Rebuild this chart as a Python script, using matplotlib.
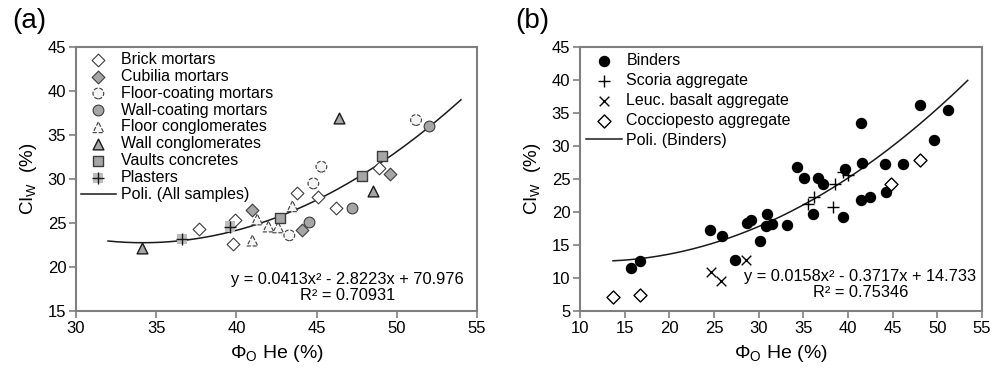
import numpy as np
import matplotlib
matplotlib.use("Agg")
import matplotlib.pyplot as plt

plt.rcParams['font.family'] = ['Liberation Sans', 'DejaVu Sans']
plt.rcParams['mathtext.fontset'] = 'custom'
plt.rcParams['mathtext.rm'] = 'Liberation Sans'
plt.rcParams['mathtext.it'] = 'Liberation Sans:italic'

# ---- panel (a) data ----
brick_x = [37.7, 39.8, 39.9, 43.8, 45.1, 46.2, 48.9]
brick_y = [24.3, 22.6, 25.3, 28.4, 28.0, 26.7, 31.3]
cubilia_x = [41.0, 44.1, 49.6]
cubilia_y = [26.5, 24.2, 30.6]
floorcoat_x = [43.3, 44.8, 45.3, 51.2]
floorcoat_y = [23.6, 29.5, 31.4, 36.7]
wallcoat_x = [44.5, 47.2, 52.0]
wallcoat_y = [25.1, 26.7, 36.0]
floorcong_x = [41.0, 41.3, 42.0, 42.6, 43.5]
floorcong_y = [23.0, 25.4, 24.6, 24.5, 26.9]
wallcong_x = [34.1, 46.4, 48.5]
wallcong_y = [22.2, 36.9, 28.6]
vaults_x = [42.75, 47.85, 49.05]
vaults_y = [25.6, 30.3, 32.6]
plasters_x = [36.6, 39.6]
plasters_y = [23.2, 24.6]
coef_a = [0.0413, -2.8223, 70.976]

# ---- panel (b) data ----
binders_x = [15.7, 16.7, 24.6, 25.9, 27.4, 28.7, 29.1, 30.1, 30.9, 30.8, 31.5,
             33.2, 34.3, 35.1, 36.1, 36.6, 37.15, 39.4, 39.7, 41.5, 41.6, 41.5,
             42.5, 44.1, 44.3, 46.2, 48.1, 49.6, 51.2]
binders_y = [11.5, 12.6, 17.2, 16.3, 12.8, 18.3, 18.8, 15.6, 19.7, 17.9, 18.2,
             18.0, 26.8, 25.2, 19.7, 25.2, 24.3, 19.2, 26.5, 33.5, 27.5, 21.8,
             22.2, 27.3, 23.0, 27.3, 36.2, 30.9, 35.5]
scoria_x = [35.5, 36.2, 38.3, 38.5, 39.4, 40.0]
scoria_y = [21.2, 22.2, 20.7, 24.3, 26.0, 25.6]
leuc_x = [24.7, 25.8, 28.6]
leuc_y = [10.9, 9.6, 12.7]
coccio_x = [13.75, 16.7, 44.8, 48.1]
coccio_y = [7.1, 7.5, 24.2, 27.9]
coef_b = [0.0158, -0.3717, 14.733]

grey = '#a6a6a6'
edge = '#3c3c3c'
spine_col = '#7f7f7f'

fig = plt.figure(figsize=(10.01, 3.79), dpi=100)
ax1 = fig.add_axes([0.0759, 0.1794, 0.4006, 0.6966])
ax2 = fig.add_axes([0.5794, 0.1794, 0.4016, 0.6966])

s = 60
h = []
h.append(ax1.scatter(brick_x, brick_y, marker='D', s=42, facecolor='white', edgecolor=edge, linewidth=0.8, zorder=3))
h.append(ax1.scatter(cubilia_x, cubilia_y, marker='D', s=42, facecolor=grey, edgecolor=edge, linewidth=0.8, zorder=3))
h.append(ax1.scatter(floorcoat_x, floorcoat_y, marker='o', s=s, facecolor='#f4f4f4', edgecolor=edge, linewidth=0.8, linestyle='--', zorder=3))
h.append(ax1.scatter(wallcoat_x, wallcoat_y, marker='o', s=s, facecolor=grey, edgecolor=edge, linewidth=0.8, zorder=3))
h.append(ax1.scatter(floorcong_x, floorcong_y, marker='^', s=s, facecolor='#f4f4f4', edgecolor=edge, linewidth=0.8, linestyle='--', zorder=3))
h.append(ax1.scatter(wallcong_x, wallcong_y, marker='^', s=s, facecolor=grey, edgecolor='#1a1a1a', linewidth=1.0, zorder=3))
h.append(ax1.scatter(vaults_x, vaults_y, marker='s', s=s, facecolor=grey, edgecolor=edge, linewidth=1.0, zorder=3))
pb = ax1.scatter(plasters_x, plasters_y, marker='s', s=55, facecolor='#bdbdbd', edgecolor='none', zorder=3)
pp = ax1.scatter(plasters_x, plasters_y, marker='+', s=65, color='#1a1a1a', linewidth=1.0, zorder=4)
h.append((pb, pp))
xa = np.linspace(32, 54, 200)
fa, = ax1.plot(xa, np.polyval(coef_a, xa), color='#1a1a1a', lw=1.1, zorder=2)
h.append(fa)
labels_a = ['Brick mortars', 'Cubilia mortars', 'Floor-coating mortars', 'Wall-coating mortars',
            'Floor conglomerates', 'Wall conglomerates', 'Vaults concretes', 'Plasters',
            'Poli. (All samples)']
ax1.legend(h, labels_a, loc='upper left', frameon=False, fontsize=11.5, labelspacing=0.12,
           handlelength=2.2, handletextpad=0.3, borderaxespad=0.1, borderpad=0.2)
ax1.text(54.2, 17.7, 'y = 0.0413x² - 2.8223x + 70.976\nR² = 0.70931', ha='right', va='center',
         multialignment='center', fontsize=11.8, linespacing=1.05)
ax1.set_xlim(30, 55)
ax1.set_ylim(15, 45)
ax1.set_xticks(np.arange(30, 56, 5))
ax1.set_yticks(np.arange(15, 46, 5))

g = []
g.append(ax2.scatter(binders_x, binders_y, marker='o', s=52, color='black', zorder=3))
g.append(ax2.scatter(scoria_x, scoria_y, marker='+', s=75, color='black', linewidth=1.0, zorder=4))
g.append(ax2.scatter(leuc_x, leuc_y, marker='x', s=48, color='black', linewidth=1.0, zorder=4))
g.append(ax2.scatter(coccio_x, coccio_y, marker='D', s=44, facecolor='white', edgecolor='black', linewidth=1.0, zorder=3))
xb = np.linspace(13.7, 53.4, 200)
fb, = ax2.plot(xb, np.polyval(coef_b, xb), color='#1a1a1a', lw=1.1, zorder=2)
g.append(fb)
labels_b = ['Binders', 'Scoria aggregate', 'Leuc. basalt aggregate', 'Cocciopesto aggregate', 'Poli. (Binders)']
ax2.legend(g, labels_b, loc='upper left', frameon=False, fontsize=11.5, labelspacing=0.3,
           handlelength=2.2, handletextpad=0.3, borderaxespad=0.1, borderpad=0.3)
ax2.text(54.4, 9.0, 'y = 0.0158x² - 0.3717x + 14.733\nR² = 0.75346', ha='right', va='center',
         multialignment='center', fontsize=11.8, linespacing=1.05)
ax2.set_xlim(10, 55)
ax2.set_ylim(5, 45)
ax2.set_xticks(np.arange(10, 56, 5))
ax2.set_yticks(np.arange(5, 46, 5))

for ax, tag in [(ax1, '(a)'), (ax2, '(b)')]:
    for sp in ax.spines.values():
        sp.set_color(spine_col)
        sp.set_linewidth(1.5)
    ax.tick_params(direction='out', length=5, width=1.2, color=spine_col, labelsize=12, pad=2)
    ax.set_ylabel(r'CI$_\mathrm{W}$  (%)', fontsize=13.5, labelpad=6)
    ax.set_xlabel(r'$\Phi_\mathrm{O}$ He (%)', fontsize=14, labelpad=5)
    ax.text(-0.16, 1.1, tag, transform=ax.transAxes, fontsize=20, va='center', ha='left')

fig.savefig('out.png', dpi=100)
